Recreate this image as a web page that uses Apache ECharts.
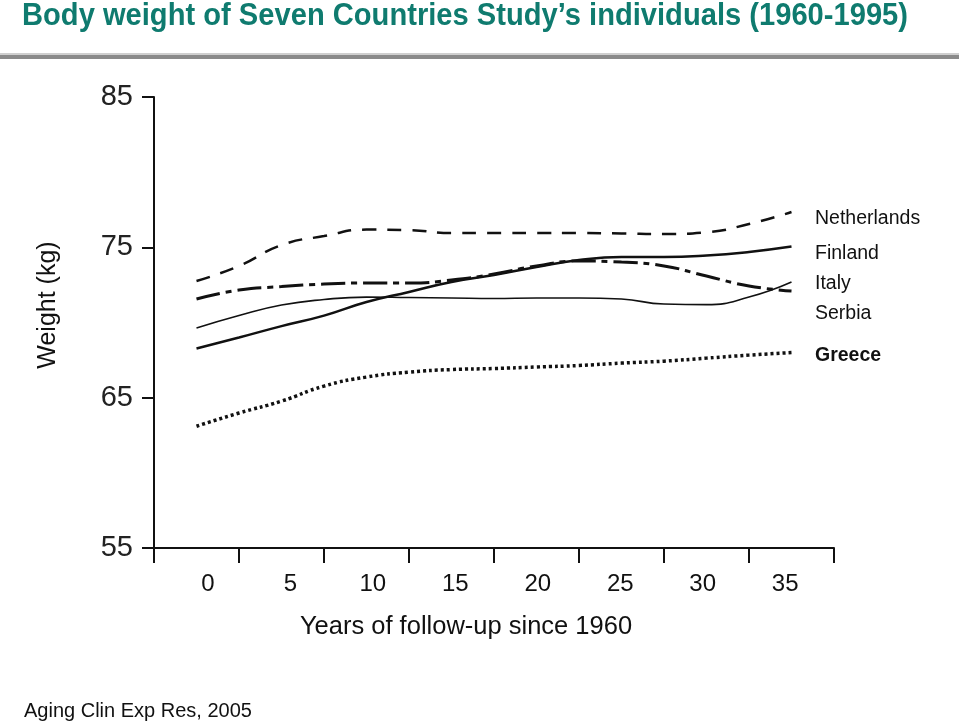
<!DOCTYPE html>
<html>
<head>
<meta charset="utf-8">
<script src="https://cdn.jsdelivr.net/npm/echarts@6/dist/echarts.min.js"></script>
<style>html,body{margin:0;padding:0;background:#fff}#c{width:959px;height:722px}</style>
</head>
<body>
<div id="c"></div>
<script>
var years = [0, 2.5, 5, 7.5, 10, 12.5, 15, 17.5, 20, 22.5, 25, 27.5, 30, 32.5, 35];
var netherlands = [72.76, 73.76, 75.15, 75.75, 76.18, 76.15, 75.95, 75.95, 75.95, 75.95, 75.92, 75.88, 76.0, 76.55, 77.35];
var finland = [68.27, 69.0, 69.76, 70.46, 71.36, 72.03, 72.69, 73.16, 73.69, 74.15, 74.35, 74.35, 74.45, 74.69, 75.05];
var italy = [71.56, 72.16, 72.39, 72.56, 72.63, 72.63, 72.82, 73.22, 73.76, 74.09, 74.02, 73.76, 73.09, 72.43, 72.09];
var serbia = [69.63, 70.46, 71.16, 71.53, 71.69, 71.66, 71.63, 71.6, 71.63, 71.63, 71.56, 71.23, 71.19, 71.69, 72.69];
var greece = [63.1, 63.98, 64.77, 65.77, 66.37, 66.7, 66.87, 66.94, 67.04, 67.14, 67.3, 67.43, 67.63, 67.83, 68.0];
var xTickValues = [-2.5, 2.5, 7.5, 12.5, 17.5, 22.5, 27.5, 32.5, 37.5];
var xLabelValues = [0, 5, 10, 15, 20, 25, 30, 35];
var countryLabels = ['Netherlands', 'Finland', 'Italy', 'Serbia', 'Greece'];

function pairs(vals) { return years.map(function (y, i) { return [y, vals[i]]; }); }

var chart = echarts.init(document.getElementById('c'));
var font = 'Liberation Sans, Arial, sans-serif';
var labelY = [219, 254, 284, 314, 356];

var titleText = 'Body weight of Seven Countries Study\u2019s individuals (1960-1995)';
var titleFont = 'bold 31px "Liberation Sans", Arial, sans-serif';
var mctx = document.createElement('canvas').getContext('2d');
mctx.font = titleFont;
var titleScale = 886 / mctx.measureText(titleText).width;

var graphics = [
  { type: 'rect', shape: { x: 0, y: 53, width: 959, height: 2 }, style: { fill: '#cfcfcf' } },
  { type: 'rect', shape: { x: 0, y: 55, width: 959, height: 4 }, style: { fill: '#8a8a8a' } },
  { type: 'text', x: 22, y: 16, scaleX: titleScale, style: { text: titleText, font: titleFont, fill: '#0f7b6f', verticalAlign: 'middle' } },
  { type: 'text', x: 48, y: 305, rotation: Math.PI / 2, style: { text: 'Weight (kg)', font: '25px ' + font, fill: '#111', align: 'center', verticalAlign: 'middle' } },
  { type: 'text', x: 466, y: 627, style: { text: 'Years of follow-up since 1960', font: '25.5px ' + font, fill: '#111', align: 'center', verticalAlign: 'middle' } },
  { type: 'text', x: 24, y: 711, style: { text: 'Aging Clin Exp Res, 2005', font: '20px ' + font, fill: '#111', verticalAlign: 'middle' } }
];
countryLabels.forEach(function (n, i) {
  graphics.push({ type: 'text', x: 815, y: labelY[i], style: { text: n, font: (n === 'Greece' ? 'bold ' : '') + '19.5px ' + font, fill: '#111', verticalAlign: 'middle' } });
});

chart.setOption({
  animation: false,
  backgroundColor: '#fff',
  grid: { left: 154, right: 125, top: 97, bottom: 174 },
  xAxis: [{
    type: 'value', min: -2.5, max: 37.5, position: 'bottom',
    axisLine: { show: true, onZero: false, lineStyle: { color: '#111', width: 2 } },
    axisTick: { show: true, customValues: xTickValues, length: 15, lineStyle: { color: '#111', width: 2 } },
    axisLabel: { show: false },
    splitLine: { show: false }
  }, {
    type: 'value', min: -3.27, max: 37.96, position: 'bottom',
    axisLine: { show: false, onZero: false }, axisTick: { show: false }, splitLine: { show: false },
    axisLabel: { show: true, customValues: xLabelValues, margin: 24, fontSize: 24, fontFamily: font, color: '#111' }
  }],
  yAxis: {
    type: 'value', min: 55, max: 85, interval: 10, position: 'left',
    axisLine: { show: true, onZero: false, lineStyle: { color: '#111', width: 2 } },
    axisTick: { show: true, length: 12, lineStyle: { color: '#111', width: 2 } },
    axisLabel: { margin: 21, fontSize: 29, fontFamily: font, color: '#222' },
    splitLine: { show: false }
  },
  graphic: graphics,
  series: [
    { name: 'Netherlands', type: 'line', smooth: true, symbol: 'none', data: pairs(netherlands), lineStyle: { color: '#111', width: 2.5, type: [14, 11] } },
    { name: 'Finland', type: 'line', smooth: true, symbol: 'none', data: pairs(finland), lineStyle: { color: '#111', width: 2.5 } },
    { name: 'Italy', type: 'line', smooth: true, symbol: 'none', data: pairs(italy), lineStyle: { color: '#111', width: 3, type: [24, 6, 6, 6] } },
    { name: 'Serbia', type: 'line', smooth: true, symbol: 'none', data: pairs(serbia), lineStyle: { color: '#111', width: 1.6 } },
    { name: 'Greece', type: 'line', smooth: true, symbol: 'none', data: pairs(greece), lineStyle: { color: '#111', width: 3.5, type: [3, 3] } }
  ]
});
</script>
</body>
</html>
